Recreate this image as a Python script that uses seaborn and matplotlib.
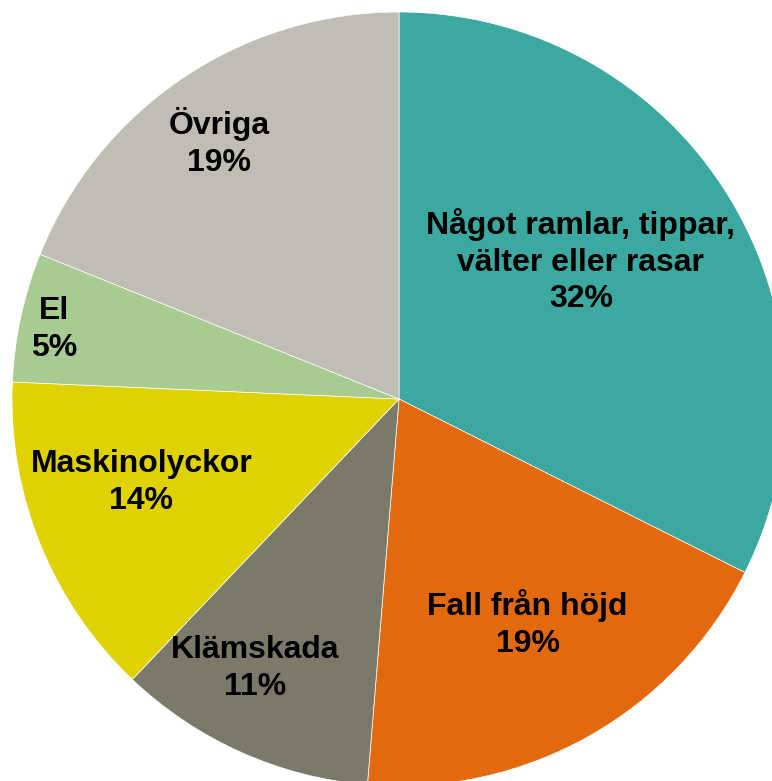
import matplotlib
matplotlib.use("Agg")
import matplotlib.pyplot as plt
import numpy as np
import seaborn as sns

categories = ["Något ramlar, tippar,\nvälter eller rasar", "Fall från höjd", "Klämskada",
              "Maskinolyckor", "El", "Övriga"]
shares = [32.4, 18.9, 10.8, 13.6, 5.4, 18.9]
pct_labels = ["32%", "19%", "11%", "14%", "5%", "19%"]

colors = sns.color_palette(["#3BA9A0", "#E3690E", "#7B7A6A", "#E0D200", "#A7CB91", "#BFBDB4"])

sns.set_style("white")
plt.rcParams['font.family'] = ['Liberation Sans', 'DejaVu Sans']

fig = plt.figure(figsize=(7.72, 7.81), dpi=100)
ax = fig.add_axes([0, 0, 1, 1])

wedges, _ = ax.pie(shares, colors=colors, startangle=90, counterclock=False,
                   radius=1.0, wedgeprops=dict(edgecolor="white", linewidth=0.5))

# label placement inside each slice (radius fraction, angle nudge in degrees)
label_r = [0.59, 0.67, 0.79, 0.70, 0.91, 0.81]
label_da = [5.5, 0.4, -3.9, -4.0, 0.8, 1.0]
for w, cat, pct, r, da in zip(wedges, categories, pct_labels, label_r, label_da):
    mid = np.deg2rad((w.theta1 + w.theta2) / 2 + da)
    ax.text(r * np.cos(mid), r * np.sin(mid), f"{cat}\n{pct}", ha="center", va="center",
            fontsize=23, fontweight="bold", color="black", linespacing=1.3)

# pie centre sits at (399, 399) px with a 387 px radius, cropped on right/bottom
R = 387.0
ax.set_xlim(-399 / R, (772 - 399) / R)
ax.set_ylim(-(781 - 399) / R, 399 / R)
ax.set_aspect("equal")
ax.axis("off")

fig.savefig("out.png", dpi=100)
